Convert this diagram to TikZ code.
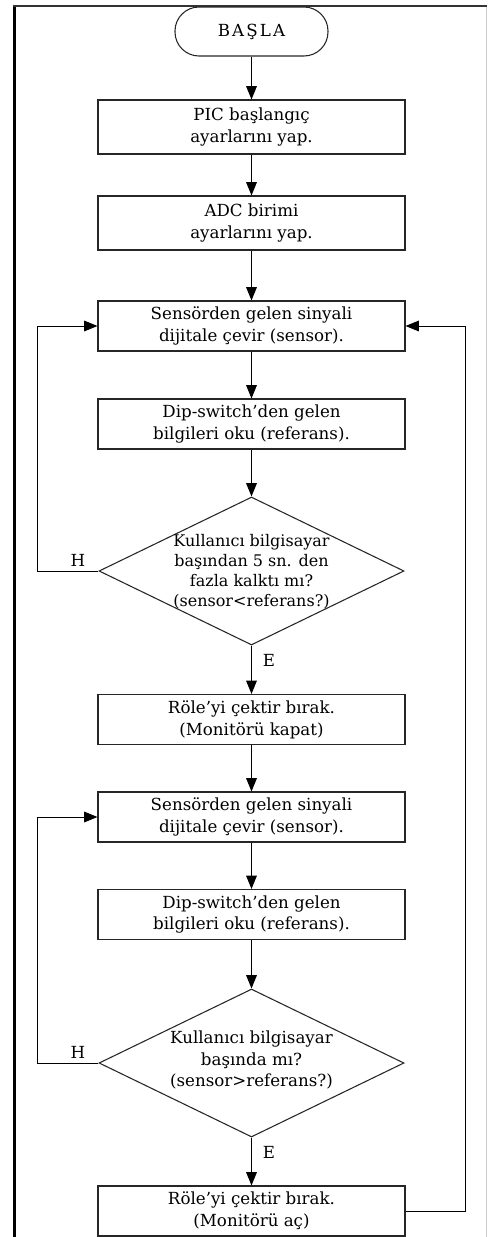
\documentclass[tikz,border=0pt]{standalone}
\usepackage{fontspec}
\usetikzlibrary{shapes.geometric,arrows.meta}
\newfontfamily\dvs{DejaVu Serif}
\newfontfamily\dvsw[LetterSpace=13]{DejaVu Serif}
\begin{document}
\begin{tikzpicture}[x=0.75pt,y=-0.75pt,
  every node/.style={font=\dvs\fontsize{12.5}{16.3}\selectfont, text=black},
  procbox/.style={draw=black!85, line width=0.8pt, minimum width=307*0.75pt, minimum height=50*0.75pt, align=center, inner sep=0pt},
  termbox/.style={draw=black!85, line width=0.8pt, minimum width=153*0.75pt, minimum height=49*0.75pt, rounded corners=24*0.75pt, inner sep=0pt},
  decbox/.style={draw=black!85, line width=0.8pt, shape=diamond, minimum width=305*0.75pt, minimum height=148*0.75pt, inner sep=0pt},
  dectext/.style={align=center, inner sep=0pt},
  arr/.style={draw=black, line width=0.75pt, -{Triangle[length=10pt,width=8pt]}},
  lbl/.style={inner sep=0pt}
]
\useasboundingbox (0,0) rectangle (487,1237);
\fill[white] (0,0) rectangle (487,1237);
% frame
\draw[black, line width=2.25pt] (14.5,5) -- (14.5,1237);
\draw[black!80, line width=1.5pt] (13,6) -- (487,6);
\draw[black!20, line width=0.75pt] (486,7) -- (486,1237);

\coordinate (L) at (37,0);
\coordinate (R) at (465,0);

\node[termbox, font=\dvsw\fontsize{12.5}{16.3}\selectfont] (start) at (251.5,31.5) {BAŞLA};
\node[procbox, minimum height=54*0.75pt] (b1) at (251.5,127) {PIC başlangıç\\ayarlarını yap.};
\node[procbox, minimum height=54*0.75pt] (b2) at (251.5,223) {ADC birimi\\ayarlarını yap.};
\node[procbox] (b3) at (251.5,326) {Sensörden gelen sinyali\\dijitale çevir (sensor).};
\node[procbox] (b4) at (251.5,424) {Dip-switch’den gelen\\bilgileri oku (referans).};
\node[decbox] (d1) at (251.5,571) {};
\node[dectext, font=\dvs\fontsize{12}{15}\selectfont] (t1) at (251.5,572) {Kullanıcı bilgisayar\\başından 5 sn. den\\fazla kalktı mı?\\(sensor<referans?)};
\node[procbox] (b5) at (251.5,719.5) {Röle’yi çektir bırak.\\(Monitörü kapat)};
\node[procbox] (b6) at (251.5,817) {Sensörden gelen sinyali\\dijitale çevir (sensor).};
\node[procbox] (b7) at (251.5,914.5) {Dip-switch’den gelen\\bilgileri oku (referans).};
\node[decbox] (d2) at (251.5,1063) {};
\node[dectext] (t2) at (251.5,1060) {Kullanıcı bilgisayar\\başında mı?\\(sensor>referans?)};
\node[procbox] (b8) at (251.5,1211) {Röle’yi çektir bırak.\\(Monitörü aç)};

\draw[arr] (start) -- (b1);
\draw[arr] (b1) -- (b2);
\draw[arr] (b2) -- (b3);
\draw[arr] (b3) -- (b4);
\draw[arr] (b4) -- (d1);
\draw[arr] (d1) -- (b5);
\draw[arr] (b5) -- (b6);
\draw[arr] (b6) -- (b7);
\draw[arr] (b7) -- (d2);
\draw[arr] (d2) -- (b8);
\draw[arr] (d1.west) -- (d1.west -| L) |- (b3.west);
\draw[arr] (d2.west) -- (d2.west -| L) |- (b6.west);
\draw[arr] (b8.east) -- (b8.east -| R) |- (b3.east);

\node[lbl] (h1) at (78,560) {H};
\node[lbl] (e1) at (269,660) {E};
\node[lbl] (h2) at (78,1052) {H};
\node[lbl] (e2) at (269,1152) {E};
\end{tikzpicture}
\end{document}
